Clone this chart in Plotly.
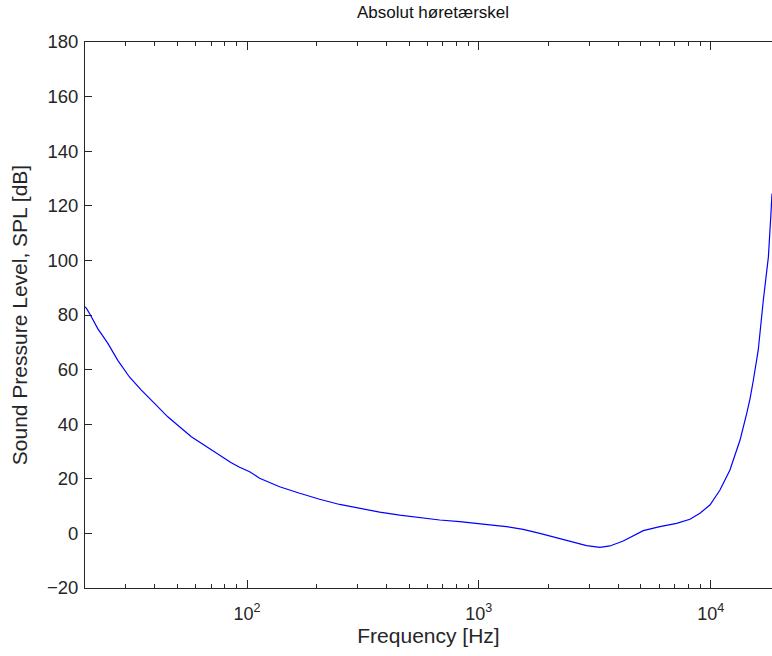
import plotly.graph_objects as go
import math

# Data
freq_hz = [20.0, 20.3, 21.1, 22.7, 25.1, 27.7, 31.1, 35.0, 39.9, 45.5, 57.5, 70.1, 85.5,
           92.9, 102.6, 113.3, 138.2, 168.7, 205.7, 251, 306, 373.6, 455.6, 556, 678,
           828, 914, 977, 1115, 1315, 1552, 1833, 2163, 2553, 2915, 3330, 3675, 4197,
           4484, 4953, 5120, 6040, 7130, 8140, 8990, 9930, 10970, 12110, 13390, 14300,
           14790, 15280, 16040, 16870, 17740, 18200, 18390]
spl_db = [83.0, 82.4, 80.0, 75.0, 69.6, 63.4, 57.3, 52.5, 47.6, 42.7, 35.4, 30.5, 25.9,
          24.2, 22.6, 20.2, 17.1, 14.7, 12.5, 10.6, 9.2, 7.8, 6.7, 5.7, 4.9,
          4.3, 3.9, 3.4, 3.1, 2.5, 1.5, 0.0, -1.6, -3.4, -4.5, -5.1, -4.6, -2.8,
          -1.5, 0.6, 1.0, 2.5, 3.7, 5.2, 7.4, 10.4, 15.9, 23.2, 34.2, 43.9,
          49.4, 56.1, 67.1, 85.4, 101.2, 117.1, 124.5]

x_tick_vals = [100, 1000, 10000]
x_tick_text = ["10<sup>2</sup>", "10<sup>3</sup>", "10<sup>4</sup>"]
x_minor_vals = [m * 10 ** d for d in (1, 2, 3, 4) for m in range(2, 10) if 20 <= m * 10 ** d <= 20000]
y_tick_vals = [-20, 0, 20, 40, 60, 80, 100, 120, 140, 160, 180]

title_text = "Absolut høretærskel"
x_label = "Frequency [Hz]"
y_label = "Sound Pressure Level, SPL [dB]"

FONT = "Liberation Sans, Arial, sans-serif"
INK = "#262626"
X_RANGE = [math.log10(20), 4.2646]

fig = go.Figure()
fig.add_trace(go.Scatter(x=freq_hz, y=spl_db, mode="lines",
                         line=dict(color="#0000ff", width=1.2), showlegend=False,
                         hoverinfo="skip"))
# invisible helper trace so the minor-tick axis is drawn
fig.add_trace(go.Scatter(x=[freq_hz[0]], y=[spl_db[0]], xaxis="x2", mode="markers",
                         marker=dict(opacity=0), showlegend=False, hoverinfo="skip"))

fig.update_layout(
    width=772, height=656,
    margin=dict(l=85, r=0, t=42, b=68, autoexpand=False),
    paper_bgcolor="white", plot_bgcolor="white",
    font=dict(family=FONT, size=18, color=INK),
    title=dict(text=title_text, x=433 / 772, xref="container", xanchor="center",
               y=1 - 12 / 656, yref="container", yanchor="middle",
               font=dict(family=FONT, size=17, color="#111")),
    xaxis=dict(
        type="log", range=X_RANGE, automargin=False,
        tickmode="array", tickvals=x_tick_vals, ticktext=x_tick_text,
        ticks="inside", ticklen=8, tickwidth=1, tickcolor=INK,
        showline=True, linecolor=INK, linewidth=1, mirror="ticks",
        showgrid=False, zeroline=False,
        tickfont=dict(family=FONT, size=18, color=INK),
        ticklabelstandoff=9,
        title=dict(text=x_label, font=dict(family=FONT, size=21, color=INK), standoff=4),
    ),
    xaxis2=dict(
        type="log", range=X_RANGE, overlaying="x", anchor="y", side="bottom",
        automargin=False, tickmode="array", tickvals=x_minor_vals,
        ticks="inside", ticklen=4, tickwidth=1, tickcolor=INK,
        showticklabels=False, showline=True, linecolor=INK, linewidth=1, mirror="ticks",
        showgrid=False, zeroline=False,
    ),
    yaxis=dict(
        range=[-20, 180], tickmode="array", tickvals=y_tick_vals, automargin=False,
        ticks="inside", ticklen=7, tickwidth=1, tickcolor=INK,
        showline=True, linecolor=INK, linewidth=1, mirror=False,
        showgrid=False, zeroline=False,
        tickfont=dict(family=FONT, size=18.5, color=INK),
        ticklabelstandoff=2,
        title=dict(text=y_label, font=dict(family=FONT, size=21, color=INK), standoff=13),
    ),
)

fig.write_html("out.html", config={"displayModeBar": False},
               post_script="document.body.style.margin='0';")
